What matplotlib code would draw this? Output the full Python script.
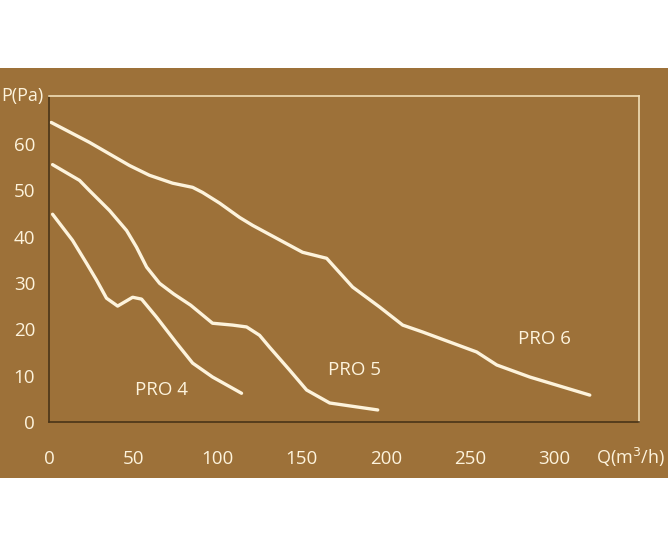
import matplotlib.pyplot as plt
from matplotlib.patches import Rectangle

# fan curves: Q (m3/h) vs P (Pa)
pro4_q = [2.1, 13.9, 22.3, 28.2, 34.1, 40.7, 49.6, 54.9, 63.8, 75.7, 85.2, 97.0, 114.2]
pro4_p = [44.8, 39.2, 34.2, 30.6, 26.7, 25.0, 26.9, 26.5, 22.6, 17.0, 12.7, 9.7, 6.2]

pro5_q = [2.1, 18.1, 24.0, 35.9, 46.0, 51.9, 57.9, 65.6, 74.0, 84.0, 97.0, 108.9,
          117.2, 124.9, 130.9, 142.7, 152.8, 166.5, 195.0]
pro5_p = [55.5, 52.1, 49.9, 45.6, 41.3, 37.7, 33.4, 29.9, 27.6, 25.2, 21.3, 20.9,
          20.5, 18.7, 16.1, 11.2, 6.9, 4.1, 2.6]

pro6_q = [1.3, 24.0, 47.8, 59.6, 73.3, 85.2, 91.1, 101.2, 113.1, 120.8, 150.4, 164.7,
          180.1, 196.1, 209.8, 221.7, 253.7, 265.6, 285.2, 320.8]
pro6_p = [64.6, 60.3, 55.3, 53.2, 51.5, 50.6, 49.5, 47.2, 44.1, 42.4, 36.6, 35.3,
          29.1, 24.8, 20.9, 19.4, 15.1, 12.3, 9.7, 5.8]

labels = ['PRO 4', 'PRO 5', 'PRO 6']
label_pos = [(67, 7), (181, 11.3), (294, 17.8)]

xticks = [0, 50, 100, 150, 200, 250, 300]
yticks = [0, 10, 20, 30, 40, 50, 60]

brown = '#9d7139'
cream = '#fdf3dc'
dark = '#4a3418'
fs = 13.5

plt.rcParams['font.family'] = ['Open Sans', 'DejaVu Sans']

fig = plt.figure(figsize=(6.68, 5.47), dpi=100)
fig.patch.set_facecolor('white')
# brown band behind the chart
fig.add_artist(Rectangle((0, 0.126), 1, 0.75, transform=fig.transFigure,
                         facecolor=brown, edgecolor='none', zorder=-10))

ax = fig.add_axes([0.0734, 0.2285, 0.8832, 0.596])
ax.set_facecolor(brown)

for q, p in [(pro4_q, pro4_p), (pro5_q, pro5_p), (pro6_q, pro6_p)]:
    ax.plot(q, p, color=cream, lw=2.4, solid_capstyle='round', solid_joinstyle='round')

for lab, (x, y) in zip(labels, label_pos):
    ax.text(x, y, lab, color=cream, fontsize=fs, ha='center', va='center')

ax.set_xlim(0, 350)
ax.set_ylim(0, 70.3)
ax.set_xticks(xticks)
ax.set_yticks(yticks)
ax.tick_params(length=0, colors=cream, labelsize=fs)
ax.tick_params(axis='x', pad=20)
ax.tick_params(axis='y', pad=10)

ax.spines['left'].set_color(dark)
ax.spines['bottom'].set_color(dark)
ax.spines['top'].set_color('#f2dfb8')
ax.spines['right'].set_color('#f2dfb8')
for s in ax.spines.values():
    s.set_linewidth(1.2)

ax.text(-0.081, 1.0, 'P(Pa)', transform=ax.transAxes, color=cream,
        fontsize=fs - 0.5, ha='left', va='center')
ax.text(0.985, -0.11, 'Q(m$^3$/h)', transform=ax.transAxes, color=cream,
        fontsize=fs - 0.5, ha='center', va='center')

fig.savefig('out.png', dpi=100)
